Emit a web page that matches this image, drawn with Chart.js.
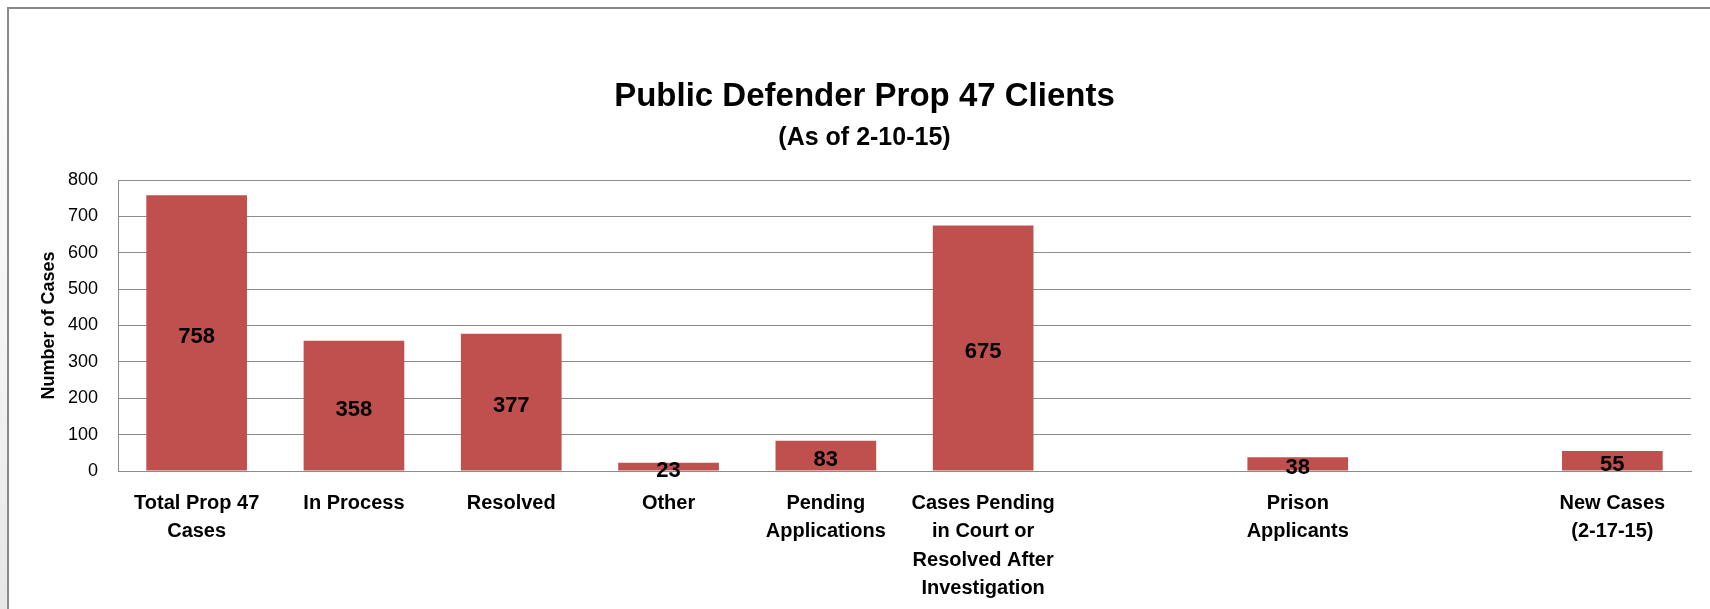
<!DOCTYPE html>
<html>
<head>
<meta charset="utf-8">
<script src="https://cdn.jsdelivr.net/npm/chart.js@4.4.1/dist/chart.umd.min.js"></script>
<style>
  html, body { margin: 0; padding: 0; background: #ffffff; overflow: hidden; }
  #wrap { position: relative; width: 1710px; height: 609px; }
  #shadow { position: absolute; left: 0; top: 0; width: 7px; height: 609px;
            background: linear-gradient(to bottom, #ffffff 0%, #f3f3f3 60%, #e6e6e6 100%); }
  #frame { position: absolute; left: 7px; top: 7px; width: 1710px; height: 700px;
           border-top: 2px solid #8a8a8a; border-left: 2px solid #8a8a8a; box-sizing: border-box; }
  canvas { position: absolute; left: 0; top: 0; }
</style>
</head>
<body>
<div id="wrap">
  <div id="shadow"></div>
  <div id="frame"></div>
  <canvas id="c" width="1710" height="609"></canvas>
</div>
<script>
const categories = [
  ["Total Prop 47", "Cases"],
  ["In Process"],
  ["Resolved"],
  ["Other"],
  ["Pending", "Applications"],
  ["Cases Pending", "in Court or", "Resolved After", "Investigation"],
  [""],
  ["Prison", "Applicants"],
  [""],
  ["New Cases", "(2-17-15)"]
];
const caseCounts = [758, 358, 377, 23, 83, 675, null, 38, null, 55];
const yTicks = [0, 100, 200, 300, 400, 500, 600, 700, 800];

const titleText = "Public Defender Prop 47 Clients";
const subtitleText = "(As of 2-10-15)";
const yAxisTitle = "Number of Cases";

const FONT = '"Liberation Sans", Arial, sans-serif';

const centerLabels = {
  id: 'centerLabels',
  afterDatasetsDraw(chart) {
    const ctx = chart.ctx;
    const meta = chart.getDatasetMeta(0);
    ctx.save();
    ctx.font = 'bold 22px ' + FONT;
    ctx.fillStyle = '#000000';
    ctx.textAlign = 'center';
    ctx.textBaseline = 'middle';
    meta.data.forEach((bar, i) => {
      const v = chart.data.datasets[0].data[i];
      if (v === null || v === undefined) return;
      const yc = (bar.y + bar.base) / 2;
      ctx.fillText(String(v), bar.x, yc + 4);
    });
    ctx.restore();
  }
};

new Chart(document.getElementById('c'), {
  type: 'bar',
  data: {
    labels: categories,
    datasets: [{
      data: caseCounts,
      backgroundColor: '#C0504D',
      borderWidth: 0,
      barPercentage: 0.64,
      categoryPercentage: 1.0
    }]
  },
  options: {
    responsive: false,
    animation: false,
    devicePixelRatio: 1,
    layout: { padding: { left: 38, right: 19, top: 0, bottom: 0 } },
    plugins: {
      legend: { display: false },
      tooltip: { enabled: false },
      title: {
        display: true,
        text: titleText,
        color: '#000000',
        font: { family: FONT, size: 33, weight: 'bold', lineHeight: 1.2 },
        padding: { top: 77, bottom: 3 }
      },
      subtitle: {
        display: true,
        text: subtitleText,
        color: '#000000',
        font: { family: FONT, size: 25, weight: 'bold', lineHeight: 1.2 },
        padding: { top: 3.4, bottom: 27 }
      }
    },
    scales: {
      x: {
        grid: { display: false, drawTicks: false },
        border: { display: true, color: '#8c8c8c', width: 1 },
        ticks: {
          color: '#000000',
          font: { family: FONT, size: 20, weight: 'bold', lineHeight: 1.42 },
          padding: 18,
          maxRotation: 0,
          autoSkip: false
        },
        afterFit(scale) { scale.height = 138; }
      },
      y: {
        min: 0,
        max: 800,
        afterBuildTicks(scale) { scale.ticks = yTicks.map(v => ({ value: v })); },
        grid: { color: '#8c8c8c', lineWidth: 1, drawTicks: false },
        border: { display: true, color: '#8c8c8c', width: 1 },
        ticks: {
          color: '#000000',
          font: { family: FONT, size: 18 },
          padding: 20
        },
        title: {
          display: true,
          text: yAxisTitle,
          color: '#000000',
          font: { family: FONT, size: 18, weight: 'bold' },
          padding: 0
        },
        afterFit(scale) { scale.width = 80; }
      }
    }
  },
  plugins: [centerLabels]
});
</script>
</body>
</html>
